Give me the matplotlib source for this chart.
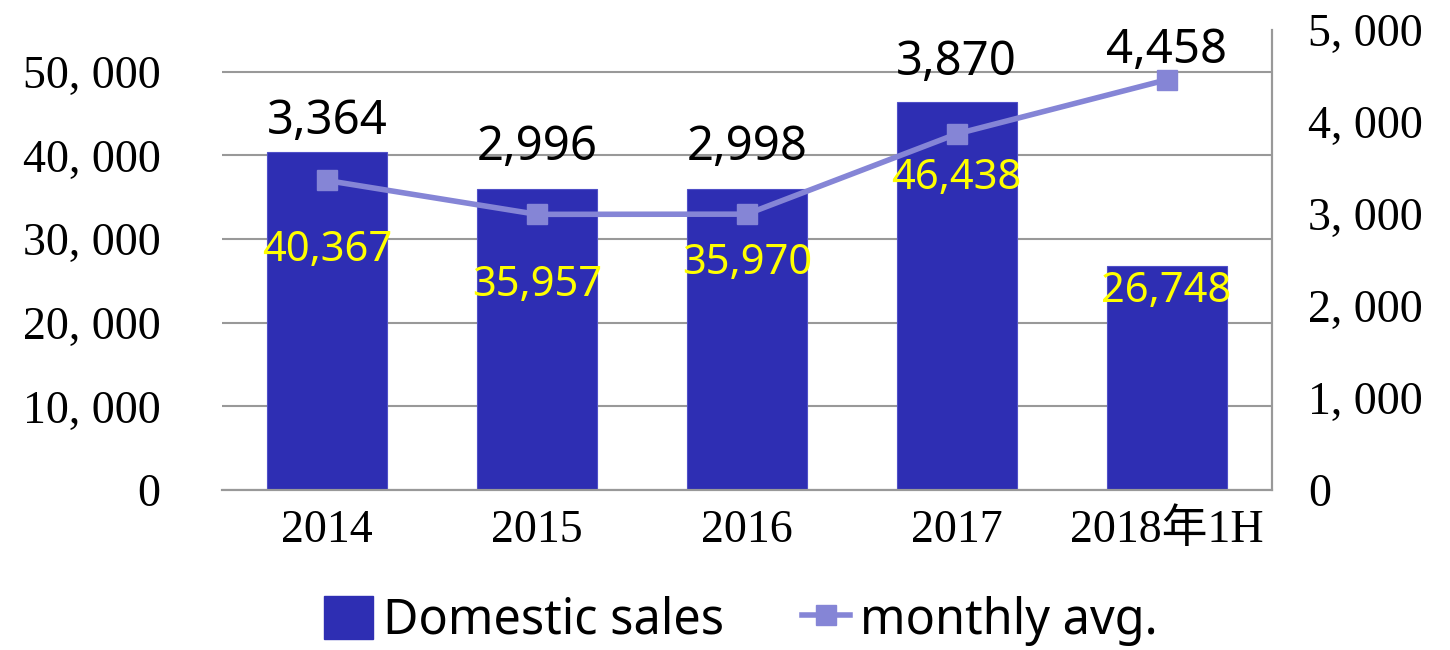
import numpy as np
import matplotlib
matplotlib.use('Agg')
import matplotlib.pyplot as plt
from matplotlib.lines import Line2D
from matplotlib.patches import Patch

# дані
categories = ['2014', '2015', '2016', '2017', '2018年1H']
domestic_sales = [40367, 35957, 35970, 46438, 26748]
monthly_avg = [3364, 2996, 2998, 3870, 4458]
left_ticks = [0, 10000, 20000, 30000, 40000, 50000]
right_ticks = [0, 1000, 2000, 3000, 4000, 5000]

# зсуви підписів (у пунктах)
sales_label_dy = [70, 69, 53, 55, 18]
avg_label_dy = [22, 30, 30, 28, 21]

bar_color = '#2E2EB3'
line_color = '#8585D6'
serif = ['Liberation Serif', 'Noto Sans CJK JP']
sans = ['Noto Sans', 'DejaVu Sans']

fig = plt.figure(figsize=(14.5, 6.5), dpi=100)
ax = fig.add_axes([0.153, 0.246, 0.724, 0.708])
ax2 = ax.twinx()

x = np.arange(len(categories))
ax.bar(x, domestic_sales, width=0.57, color=bar_color, edgecolor='#5050C8', linewidth=0.8, zorder=2)
ax.set_xlim(-0.5, len(categories) - 0.5)
ax.set_ylim(0, 55000)
ax.set_yticks(left_ticks)
ax.set_yticklabels([f'{v:,}'.replace(',', ', ') for v in left_ticks], family=serif, fontsize=33)
ax.set_xticks(x)
ax.set_xticklabels(categories, family=serif, fontsize=33)
ax.grid(axis='y', color='#999999', linewidth=1.5, zorder=0)
ax.set_axisbelow(True)
ax.tick_params(axis='y', length=0, pad=44)
ax.tick_params(axis='x', length=0, pad=14)

ax2.plot(x, monthly_avg, color=line_color, linewidth=4, marker='s', markersize=14, zorder=3)
ax2.set_ylim(0, 5000)
ax2.set_yticks(right_ticks)
ax2.set_yticklabels([f'{v:,}'.replace(',', ', ') for v in right_ticks], family=serif, fontsize=33)
ax2.tick_params(axis='y', length=0, pad=26)

for a in (ax, ax2):
    a.spines['top'].set_visible(False)
    a.spines['left'].set_visible(False)
    a.spines['right'].set_color('#999999')
    a.spines['right'].set_linewidth(1.5)
    a.spines['bottom'].set_color('#999999')
    a.spines['bottom'].set_linewidth(1.5)

# жовті підписи продажів
for i, v in enumerate(domestic_sales):
    ax.annotate(f'{v:,}', (x[i], v), xytext=(0, -sales_label_dy[i]), textcoords='offset points',
                ha='center', va='center', color='yellow', fontsize=30, family=sans, zorder=4)

# чорні підписи середніх
for i, v in enumerate(monthly_avg):
    y_top = max(domestic_sales[i] / 11.0, v)
    ax2.annotate(f'{v:,}', (x[i], y_top), xytext=(0, avg_label_dy[i]), textcoords='offset points',
                 ha='center', va='center', color='black', fontsize=34, family=sans, zorder=4)

handles = [Patch(facecolor=bar_color, edgecolor=bar_color),
           Line2D([], [], color=line_color, linewidth=4, marker='s', markersize=14)]
fig.legend(handles, ['Domestic sales', 'monthly avg.'], loc='center', bbox_to_anchor=(0.511, 0.045),
           ncol=2, frameon=False, prop={'family': sans, 'size': 35}, handlelength=1.0,
           handleheight=1.0, handletextpad=0.2, columnspacing=1.6)

fig.savefig('out.png', dpi=100)
